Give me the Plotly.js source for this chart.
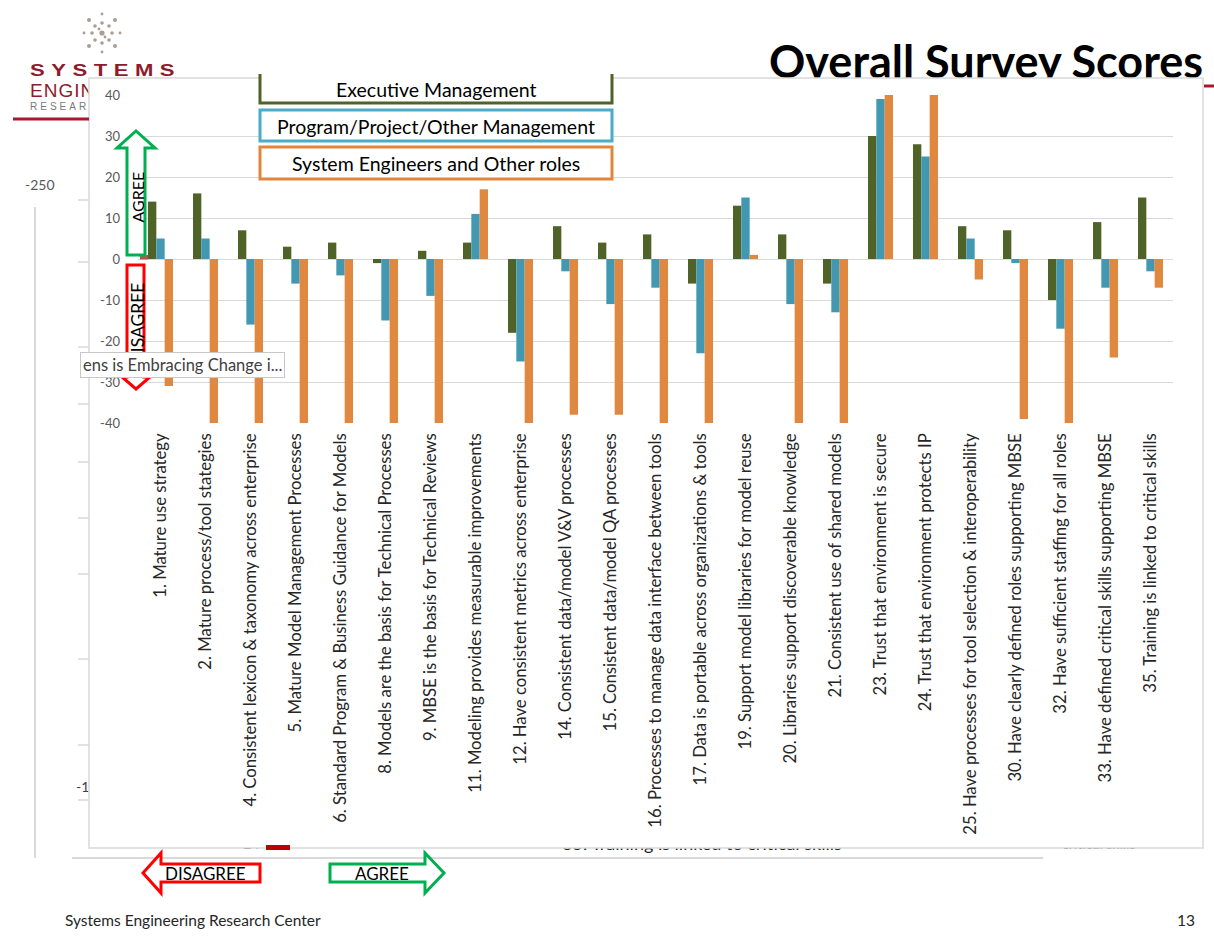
<!DOCTYPE html>
<html>
<head>
<meta charset="utf-8">
<script src="https://cdn.plot.ly/plotly-3.0.1.min.js"></script>
<style>
  body { margin:0; background:#ffffff; }
  #bg { position:absolute; left:0; top:0; width:1214px; height:939px; font-family: Lato, "Liberation Sans", sans-serif; }
  #chart { position:absolute; left:0; top:0; width:1214px; height:939px; }
  .t { position:absolute; white-space:nowrap; line-height:1.2; }
</style>
</head>
<body>
<div id="bg">
  <svg width="1214" height="939" style="position:absolute;left:0;top:0">
    <g fill="#a99d95">
      <circle cx="102" cy="33" r="2.6"/>
      <circle cx="102" cy="23" r="1.8"/><circle cx="102" cy="43" r="1.8"/>
      <circle cx="92" cy="33" r="1.8"/><circle cx="112" cy="33" r="1.8"/>
      <circle cx="95" cy="26" r="1.8"/><circle cx="109" cy="40" r="1.8"/>
      <circle cx="109" cy="26" r="1.8"/><circle cx="95" cy="40" r="1.8"/>
      <circle cx="102" cy="14" r="1.4"/><circle cx="102" cy="52" r="1.4"/>
      <circle cx="84" cy="33" r="1.4"/><circle cx="120" cy="33" r="1.4"/>
      <circle cx="89" cy="20" r="2"/><circle cx="115" cy="46" r="2"/>
      <circle cx="115" cy="20" r="2"/><circle cx="89" cy="46" r="2"/>
      <circle cx="99" cy="29" r="1.4"/><circle cx="105" cy="37" r="1.4"/>
    </g>
  </svg>
  <div class="t" style="left:30px;top:61px;font-size:17px;font-weight:700;color:#8e1b2c;letter-spacing:5px;font-family:'Liberation Sans',sans-serif;transform:scaleX(1.3);transform-origin:left top;">SYSTEMS</div>
  <div class="t" style="left:30px;top:80px;font-size:19px;color:#8e1b2c;letter-spacing:1px;font-family:'Liberation Sans',sans-serif;">ENGIN</div>
  <div class="t" style="left:30px;top:101px;font-size:10px;color:#7a7a7a;letter-spacing:3px;font-family:'Liberation Sans',sans-serif;">RESEAR</div>
  <div class="t" style="left:769px;top:34px;font-size:45px;font-weight:700;color:#000;">Overall Survey Scores</div>
  <div class="t" style="left:25px;top:177px;font-size:14px;color:#595959;">-250</div>
  <div class="t" style="left:76px;top:779px;font-size:14px;color:#404040;">-1</div>
  <div class="t" style="left:238px;top:836px;font-size:14px;color:#404040;">-24</div>
  <div class="t" style="left:562px;top:833px;font-size:18px;color:#262626;">35. Training is linked to critical skills</div>
  <div class="t" style="left:1062px;top:836px;font-size:14px;color:#404040;">critical skills</div>
</div>
<div id="chart"></div>
<script>
// ---------------- data ----------------
const categories = [
  "1. Mature use strategy",
  "2. Mature process/tool stategies",
  "4. Consistent lexicon & taxonomy across enterprise",
  "5. Mature Model Management Processes",
  "6. Standard Program & Business Guidance for Models",
  "8. Models are the basis for Technical Processes",
  "9. MBSE is the basis for Technical Reviews",
  "11. Modeling provides measurable improvements",
  "12. Have consistent metrics across enterprise",
  "14. Consistent data/model V&V processes",
  "15. Consistent data/model QA processes",
  "16. Processes to manage data interface between tools",
  "17. Data is portable across organizations & tools",
  "19. Support model libraries for model reuse",
  "20. Libraries support discoverable knowledge",
  "21. Consistent use of shared models",
  "23. Trust that environment is secure",
  "24. Trust that environment protects IP",
  "25. Have processes for tool selection & interoperability",
  "30. Have clearly defined roles supporting MBSE",
  "32. Have sufficient staffing for all roles",
  "33. Have defined critical skills supporting MBSE",
  "35. Training is linked to critical skills"
];
const executiveManagement = [14, 16, 7, 3, 4, -1, 2, 4, -18, 8, 4, 6, -6, 13, 6, -6, 30, 28, 8, 7, -10, 9, 15];
const programProjectMgmt = [5, 5, -16, -6, -4, -15, -9, 11, -25, -3, -11, -7, -23, 15, -11, -13, 39, 25, 5, -1, -17, -7, -3];
const systemEngineers   = [-31, -45, -45, -45, -45, -45, -45, 17, -45, -38, -38, -45, -45, 1, -45, -45, 45, 45, -5, -39, -45, -24, -7];
const seriesNames = ["Executive Management", "Program/Project/Other Management", "System Engineers and Other roles"];
const yTicks = [40, 30, 20, 10, 0, -10, -20, -30, -40];

const colors = ["#4f6228", "#4398b1", "#e0883f"];
const boxColors = ["#4f6228", "#4bacc6", "#e2853d"];

// pixel -> paper helpers (plot area: x 138..1173, y 95..423)
const L = 138, R = 1173, T = 95, B = 423;
const X = px => (px - L) / (R - L);
const Y = py => (B - py) / (B - T);
function path(pts, close) {
  return pts.map((p, i) => (i ? "L" : "M") + X(p[0]).toFixed(5) + "," + Y(p[1]).toFixed(5)).join(" ") + (close ? " Z" : "");
}

const traces = [executiveManagement, programProjectMgmt, systemEngineers].map((vals, i) => ({
  type: "bar",
  name: seriesNames[i],
  x: categories,
  y: vals,
  marker: { color: colors[i], line: { width: 0 } },
  cliponaxis: true,
  hoverinfo: "x+y+name"
}));

const shapes = [
  { type: "rect", xref: "paper", yref: "paper", x0: X(89), x1: X(1203), y0: Y(78), y1: Y(848),
    fillcolor: "#ffffff", line: { color: "#d9d9d9", width: 1.5 }, layer: "below" },
  { type: "line", xref: "paper", yref: "paper", x0: X(35), x1: X(35), y0: Y(207), y1: Y(858), line: { color: "#d9d9d9", width: 2 } },
  { type: "line", xref: "paper", yref: "paper", x0: X(72), x1: X(1043), y0: Y(858), y1: Y(858), line: { color: "#d9d9d9", width: 2 } },
  { type: "line", xref: "paper", yref: "paper", x0: X(13), x1: X(89), y0: Y(119), y1: Y(119), line: { color: "#a8192e", width: 3 } },
  { type: "line", xref: "paper", yref: "paper", x0: X(1204), x1: X(1214), y0: Y(86), y1: Y(86), line: { color: "#a8192e", width: 3 } },
  { type: "rect", xref: "paper", yref: "paper", x0: X(266), x1: X(290), y0: Y(845), y1: Y(850), fillcolor: "#c00000", line: { width: 0 } },
  { type: "rect", xref: "paper", yref: "paper", x0: X(140), x1: X(148), y0: Y(255), y1: Y(259.5), fillcolor: "#c0504d", line: { width: 0 } },
];
[200, 262, 347, 404, 462, 518, 574, 659, 745, 800].forEach(py => shapes.push({
  type: "line", xref: "paper", yref: "paper", x0: X(78), x1: X(89), y0: Y(py), y1: Y(py), line: { color: "#d9d9d9", width: 1.5 }
}));
shapes.push({ type: "rect", xref: "paper", yref: "paper", x0: X(260), x1: X(612), y0: Y(75), y1: Y(103), fillcolor: "#ffffff", line: { width: 0 }, layer: "above" });
shapes.push({ type: "path", xref: "paper", yref: "paper", path: path([[260, 74], [260, 103], [612, 103], [612, 74]], false), line: { color: boxColors[0], width: 3 }, layer: "above" });
shapes.push({ type: "rect", xref: "paper", yref: "paper", x0: X(260), x1: X(612), y0: Y(110), y1: Y(141), fillcolor: "#ffffff", line: { color: boxColors[1], width: 3 }, layer: "above" });
shapes.push({ type: "rect", xref: "paper", yref: "paper", x0: X(260), x1: X(612), y0: Y(147), y1: Y(179), fillcolor: "#ffffff", line: { color: boxColors[2], width: 3 }, layer: "above" });
shapes.push({ type: "path", xref: "paper", yref: "paper", layer: "above",
  path: path([[127, 255], [127, 148], [117, 148], [136, 131], [155, 148], [145, 148], [145, 255]], true),
  fillcolor: "#ffffff", line: { color: "#00b050", width: 3 } });
shapes.push({ type: "path", xref: "paper", yref: "paper", layer: "above",
  path: path([[127, 265], [144, 265], [144, 377], [150, 377], [136, 389], [122, 377], [127, 377]], true),
  fillcolor: "#ffffff", line: { color: "#ff0000", width: 3 } });
shapes.push({ type: "path", xref: "paper", yref: "paper", layer: "above",
  path: path([[260, 864], [161, 864], [161, 853], [143, 873], [161, 893], [161, 882], [260, 882]], true),
  fillcolor: "#ffffff", line: { color: "#ff0000", width: 3 } });
shapes.push({ type: "path", xref: "paper", yref: "paper", layer: "above",
  path: path([[330, 864], [425, 864], [425, 853], [444, 873], [425, 893], [425, 882], [330, 882]], true),
  fillcolor: "#ffffff", line: { color: "#00b050", width: 3 } });

const fontFam = "Lato, 'Liberation Sans', sans-serif";
function ann(text, px, py, opts) {
  return Object.assign({ xref: "paper", yref: "paper", x: X(px), y: Y(py), text: text, showarrow: false,
    xanchor: "center", yanchor: "middle",
    font: { family: fontFam, size: 19.5, color: "#000000" } }, opts || {});
}
const annotations = [
  ann(seriesNames[0], 436, 89),
  ann(seriesNames[1], 436, 126),
  ann(seriesNames[2], 436, 163),
  ann("AGREE", 136.5, 197, { textangle: -90, font: { family: fontFam, size: 16, color: "#000" } }),
  ann("DISAGREE", 136.5, 324, { textangle: -90, font: { family: fontFam, size: 17.5, color: "#000" } }),
  ann("ens is Embracing Change i...", 80, 364.5, { xanchor: "left", align: "left", bgcolor: "#ffffff",
    bordercolor: "#c8c8c8", borderwidth: 1, borderpad: 2, font: { family: fontFam, size: 16.5, color: "#404040" } }),
  ann("DISAGREE", 205, 873, { font: { family: fontFam, size: 17, color: "#000" } }),
  ann("AGREE", 382, 873, { font: { family: fontFam, size: 17, color: "#000" } }),
  ann("Systems Engineering Research Center", 63, 920, { xanchor: "left", font: { family: fontFam, size: 15.5, color: "#262626" } }),
  ann("13", 1197, 920, { xanchor: "right", font: { family: fontFam, size: 15.5, color: "#262626" } })
];

const layout = {
  width: 1214, height: 939,
  margin: { l: L, r: 1214 - R, t: T, b: 939 - B, autoexpand: false },
  paper_bgcolor: "rgba(0,0,0,0)",
  plot_bgcolor: "rgba(0,0,0,0)",
  barmode: "group",
  bargap: 0.444,
  bargroupgap: 0,
  showlegend: false,
  font: { family: fontFam },
  xaxis: {
    type: "category",
    tickangle: -90,
    ticks: "",
    ticklabelstandoff: 6,
    tickfont: { family: fontFam, size: 16.7, color: "#262626" },
    showgrid: false,
    showline: false,
    zeroline: false,
    automargin: false
  },
  yaxis: {
    range: [-40, 40],
    tickvals: yTicks,
    ticktext: yTicks.map(String),
    ticks: "",
    ticklabelstandoff: 17,
    tickfont: { family: fontFam, size: 13, color: "#595959" },
    showgrid: true,
    gridcolor: "#d9d9d9",
    gridwidth: 1.3,
    zeroline: true,
    zerolinecolor: "#d9d9d9",
    zerolinewidth: 1.3,
    showline: false,
    automargin: false
  },
  shapes: shapes,
  annotations: annotations
};

Plotly.newPlot("chart", traces, layout, { displayModeBar: false });
</script>
</body>
</html>
